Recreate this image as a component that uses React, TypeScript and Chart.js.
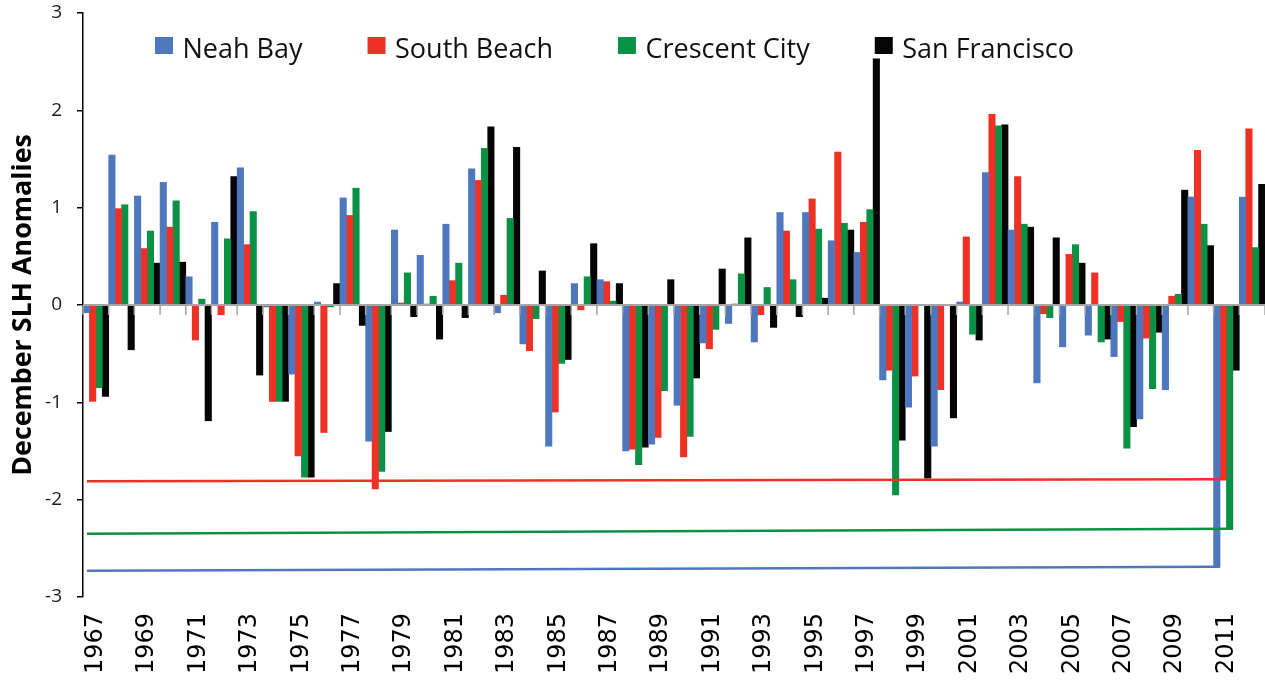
import React, { useEffect, useRef } from "react";
import { Chart, registerables } from "chart.js";

Chart.register(...registerables);

const years = [
  "1967", "1968", "1969", "1970", "1971", "1972", "1973", "1974", "1975", "1976",
  "1977", "1978", "1979", "1980", "1981", "1982", "1983", "1984", "1985", "1986",
  "1987", "1988", "1989", "1990", "1991", "1992", "1993", "1994", "1995", "1996",
  "1997", "1998", "1999", "2000", "2001", "2002", "2003", "2004", "2005", "2006",
  "2007", "2008", "2009", "2010", "2011", "2012",
];

const seriesNames = ["Neah Bay", "South Beach", "Crescent City", "San Francisco"];

const neahBay = [
  -0.08, 1.54, 1.12, 1.26, 0.29, 0.85, 1.41, -0.02, -0.71, 0.03,
  1.1, -1.4, 0.77, 0.51, 0.83, 1.4, -0.08, -0.4, -1.45, 0.22,
  0.26, -1.5, -1.43, -1.03, -0.39, -0.19, -0.38, 0.95, 0.95, 0.66,
  0.54, -0.77, -1.05, -1.45, 0.03, 1.36, 0.77, -0.8, -0.43, -0.31,
  -0.53, -1.17, -0.87, 1.11, -2.69, 1.11,
];

const southBeach = [
  -0.99, 0.99, 0.58, 0.8, -0.36, -0.1, 0.62, -0.99, -1.55, -1.31,
  0.92, -1.89, 0.02, 0.01, 0.25, 1.28, 0.1, -0.47, -1.1, -0.05,
  0.24, -1.48, -1.36, -1.56, -0.45, 0.01, -0.1, 0.76, 1.09, 1.57,
  0.85, -0.67, -0.73, -0.87, 0.7, 1.96, 1.32, -0.09, 0.52, 0.33,
  -0.17, -0.34, 0.09, 1.59, -1.79, 1.81,
];

const crescentCity = [
  -0.85, 1.03, 0.76, 1.07, 0.06, 0.68, 0.96, -0.99, -1.77, -0.02,
  1.2, -1.71, 0.33, 0.09, 0.43, 1.61, 0.89, -0.14, -0.6, 0.29,
  0.04, -1.64, -0.88, -1.35, -0.25, 0.32, 0.18, 0.26, 0.78, 0.84,
  0.98, -1.95, 0, 0, -0.3, 1.84, 0.83, -0.13, 0.62, -0.38,
  -1.47, -0.86, 0.11, 0.83, -2.3, 0.59,
];

const sanFrancisco = [
  -0.94, -0.46, 0.43, 0.44, -1.19, 1.32, -0.72, -0.99, -1.77, 0.22,
  -0.21, -1.3, -0.12, -0.35, -0.13, 1.83, 1.62, 0.35, -0.56, 0.63,
  0.22, -1.46, 0.26, -0.75, 0.37, 0.69, -0.23, -0.12, 0.07, 0.77,
  2.53, -1.39, -1.78, -1.16, -0.36, 1.85, 0.8, 0.69, 0.43, -0.35,
  -1.25, -0.28, 1.18, 0.61, -0.67, 1.24,
];

// Guide lines drawn from the y axis to the 2011 bars (Neah Bay, South Beach, Crescent City)
const guideYear = "2011";
const guideStartValues = [-2.73, -1.81, -2.35];

const yTicks = [-3, -2, -1, 0, 1, 2, 3];

const COLORS = ["#4F77BE", "#EE3124", "#0A9145", "#050505"];

const zeroAxisPlugin = {
  id: "zeroAxis",
  afterDatasetsDraw(chart: any) {
    const { ctx, chartArea } = chart;
    const xs = chart.scales.x;
    const ys = chart.scales.y;
    const y0 = ys.getPixelForValue(0);
    ctx.save();
    ctx.strokeStyle = "#A6A6A6";
    ctx.lineWidth = 2;
    ctx.beginPath();
    ctx.moveTo(chartArea.left, y0);
    ctx.lineTo(chartArea.right, y0);
    ctx.stroke();
    ctx.lineWidth = 1.5;
    for (let k = 0; k <= years.length; k++) {
      const x = xs.getPixelForValue(k - 0.5);
      ctx.beginPath();
      ctx.moveTo(x, y0);
      ctx.lineTo(x, y0 + 10);
      ctx.stroke();
    }
    ctx.restore();
  },
};

const guidePlugin = {
  id: "guides",
  afterDatasetsDraw(chart: any) {
    const { ctx, chartArea } = chart;
    const ys = chart.scales.y;
    const idx = years.indexOf(guideYear);
    ctx.save();
    ctx.lineWidth = 2.5;
    guideStartValues.forEach((v, s) => {
      const bar: any = chart.getDatasetMeta(s).data[idx];
      if (!bar) return;
      ctx.strokeStyle = COLORS[s];
      ctx.beginPath();
      ctx.moveTo(chartArea.left + 4, ys.getPixelForValue(v));
      ctx.lineTo(bar.x + bar.width / 2, bar.y);
      ctx.stroke();
    });
    ctx.restore();
  },
};

const legendPlugin = {
  id: "insideLegend",
  afterDraw(chart: any) {
    const { ctx, chartArea } = chart;
    ctx.save();
    ctx.font = "27px 'Open Sans', sans-serif";
    ctx.textBaseline = "alphabetic";
    ctx.textAlign = "left";
    let x = chartArea.left + 72;
    const top = chartArea.top + 24;
    seriesNames.forEach((name, i) => {
      ctx.fillStyle = COLORS[i];
      ctx.fillRect(x, top, 18, 17);
      ctx.fillStyle = "#111111";
      const tx = x + 27.5;
      ctx.fillText(name, tx, top + 21);
      x = tx + ctx.measureText(name).width + 65;
    });
    ctx.restore();
  },
};

export default function App() {
  const canvasRef = useRef<HTMLCanvasElement | null>(null);

  useEffect(() => {
    if (!canvasRef.current) return;
    const seriesData = [neahBay, southBeach, crescentCity, sanFrancisco];
    const chart = new Chart(canvasRef.current, {
      type: "bar",
      data: {
        labels: years,
        datasets: seriesNames.map((name, i) => ({
          label: name,
          data: seriesData[i],
          backgroundColor: COLORS[i],
          borderWidth: 0,
          categoryPercentage: 1,
          barPercentage: 1,
        })),
      },
      options: {
        animation: false,
        responsive: true,
        maintainAspectRatio: false,
        layout: { padding: { top: 13, left: 0, right: 0, bottom: 0 } },
        plugins: {
          legend: { display: false },
          tooltip: { enabled: false },
        },
        scales: {
          x: {
            grid: { display: false, drawTicks: false },
            border: { display: false },
            ticks: {
              autoSkip: false,
              minRotation: 90,
              maxRotation: 90,
              padding: 16,
              color: "#000000",
              font: { family: "'DejaVu Sans', sans-serif", size: 24 },
              callback: (_v: any, i: number) => (i % 2 === 0 ? years[i] : null),
            },
            afterFit: (s: any) => {
              s.height = 86;
              s.paddingLeft = 0;
              s.paddingRight = 0;
            },
          },
          y: {
            min: -3,
            max: 3,
            afterBuildTicks: (s: any) => {
              s.ticks = yTicks.map((v) => ({ value: v }));
            },
            ticks: {
              padding: 15,
              color: "#1a1a1a",
              font: { family: "'Open Sans', sans-serif", size: 19 },
            },
            grid: {
              drawOnChartArea: false,
              tickLength: 6,
              color: "#000000",
              lineWidth: 1.5,
            },
            border: { color: "#000000", width: 1.5 },
            title: {
              display: true,
              text: "December SLH Anomalies",
              color: "#000000",
              font: { family: "'Open Sans', sans-serif", size: 26.8, weight: "bold" },
              padding: { top: 7, bottom: 0 },
            },
            afterFit: (s: any) => {
              s.width = 83;
              s.paddingTop = 0;
              s.paddingBottom = 0;
            },
          },
        },
      },
      plugins: [guidePlugin, zeroAxisPlugin, legendPlugin],
    });
    return () => chart.destroy();
  }, []);

  return (
    <div style={{ position: "fixed", left: 0, top: 0, width: 1265, height: 683, background: "#ffffff" }}>
      <canvas ref={canvasRef} />
    </div>
  );
}
